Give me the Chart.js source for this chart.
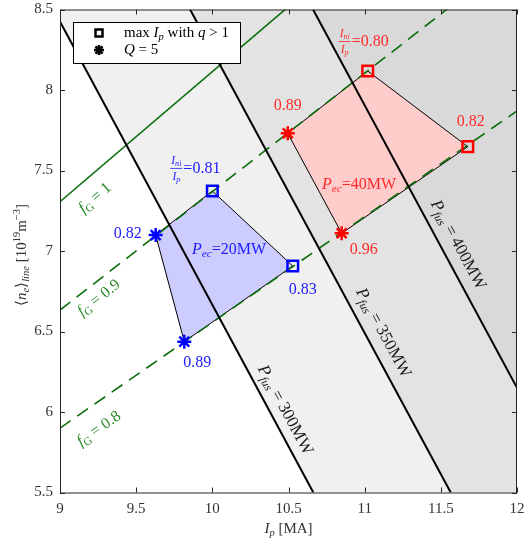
<!DOCTYPE html>
<html>
<head>
<meta charset="utf-8">
<script src="https://cdn.jsdelivr.net/npm/chart.js@4/dist/chart.umd.min.js"></script>
<style>
  html, body { margin: 0; padding: 0; background: #fff; }
</style>
</head>
<body>
<canvas id="chart" width="524" height="542"></canvas>
<script>
// ---- axis ticks ----
const xTicks = [9, 9.5, 10, 10.5, 11, 11.5, 12];
const yTicks = [5.5, 6, 6.5, 7, 7.5, 8, 8.5];

// ---- fusion power contours (Ip [MA], <ne> [1e19 m^-3]) ----
const pfusLevels = ['300MW', '350MW', '400MW'];
const pfusX = [[8.957, 10.663], [9.854, 11.565], [10.661, 12.0]];
const pfusY = [[8.5, 5.5], [8.5, 5.5], [8.5, 6.15]];

// ---- Greenwald fraction lines ----
const fgLevels = ['1', '0.9', '0.8'];
const fgX = [9, 12];
const fgY = [[7.306, 9.73], [6.633, 8.84], [5.90, 7.87]];

// ---- operating windows ----
// vertices: max Ip (q>1) squares first, then Q=5 asterisks
const bluePec = 20;
const blueX = [10.0, 10.528, 9.816, 9.628];
const blueY = [7.373, 6.907, 6.437, 7.099];
const blueNi = [0.81, 0.83, 0.89, 0.82];

const redPec = 40;
const redX = [11.02, 11.677, 10.849, 10.495];
const redY = [8.118, 7.648, 7.110, 7.731];
const redNi = [0.80, 0.82, 0.96, 0.89];

const FONT = 'Liberation Serif';
const BLUE = '#0000ff', RED = '#ff0000', GREEN = '#0b6e0b';

const pts = (xs, ys) => xs.map((x, i) => ({ x: x, y: ys[i] }));
const closed = (xs, ys) => { const p = pts(xs, ys); p.push(p[0]); return p; };

// grey bands to the right of each Pfus contour
const bandColors = ['#f0f0f0', '#e3e3e3', '#d9d9d9'];
const bands = pfusX.map((xs, i) => {
  const p = pts(xs, pfusY[i]);
  p.push({ x: 12, y: 5.5 }, { x: 12, y: 8.5 }, p[0]);
  return {
    data: p, showLine: true, fill: 'shape', backgroundColor: bandColors[i],
    borderWidth: 0, pointRadius: 0, order: 20 - i
  };
});

function polyDs(xs, ys, fillCol) {
  return {
    data: closed(xs, ys), showLine: true, fill: 'shape', backgroundColor: fillCol,
    borderColor: '#000', borderWidth: 1, pointRadius: 0, order: 6
  };
}
function markerDs(xs, ys, style, col, r) {
  return {
    data: pts(xs, ys), showLine: false, pointStyle: style, pointRadius: r,
    pointBorderColor: col, pointBackgroundColor: 'rgba(0,0,0,0)',
    pointBorderWidth: 2.5, order: 1
  };
}

const datasets = [
  ...bands,
  polyDs(blueX, blueY, '#ccccff'),
  polyDs(redX, redY, '#ffcccc'),
  ...fgY.map((ys, i) => ({
    data: pts(fgX, ys), showLine: true, borderColor: GREEN, borderWidth: 1.6,
    borderDash: i === 0 ? [] : [13, 8], pointRadius: 0, order: 4
  })),
  ...pfusX.map((xs, i) => ({
    data: pts(xs, pfusY[i]), showLine: true, borderColor: '#000', borderWidth: 2,
    pointRadius: 0, order: 3
  })),
  markerDs(blueX.slice(0, 2), blueY.slice(0, 2), 'rect', BLUE, 7.5),
  markerDs(blueX.slice(2), blueY.slice(2), 'star', BLUE, 7),
  markerDs(redX.slice(0, 2), redY.slice(0, 2), 'rect', RED, 7.5),
  markerDs(redX.slice(2), redY.slice(2), 'star', RED, 7)
];

// ---- rich text helpers (italic / subscript / superscript) ----
function setFont(ctx, s, size) {
  const fs = (s.sub || s.sup) ? size * 0.7 : size;
  ctx.font = (s.it ? 'italic ' : '') + fs + 'px "' + FONT + '"';
}
function richWidth(ctx, segs, size) {
  let w = 0;
  segs.forEach(s => { setFont(ctx, s, size); w += ctx.measureText(s.t).width; });
  return w;
}
function drawRich(ctx, segs, x, y, size, color, align) {
  const w = richWidth(ctx, segs, size);
  let cx = align === 'left' ? x : x - w / 2;
  ctx.fillStyle = color;
  ctx.textAlign = 'left';
  ctx.textBaseline = 'middle';
  segs.forEach(s => {
    setFont(ctx, s, size);
    const dy = s.sub ? size * 0.28 : s.sup ? -size * 0.35 : 0;
    ctx.fillText(s.t, cx, y + dy);
    cx += ctx.measureText(s.t).width;
  });
  return w;
}
function drawRotated(ctx, segs, x, y, size, color, angle) {
  ctx.save();
  ctx.translate(x, y);
  ctx.rotate(angle);
  drawRich(ctx, segs, 0, 0, size, color);
  ctx.restore();
}
function drawFrac(ctx, cx, cy, size, color, valTxt) {
  const fs = size * 0.72;
  const num = [{ t: 'I', it: 1 }, { t: 'ni', it: 1, sub: 1 }];
  const den = [{ t: 'I', it: 1 }, { t: 'p', it: 1, sub: 1 }];
  const fw = Math.max(richWidth(ctx, num, fs), richWidth(ctx, den, fs)) + 2;
  const rest = [{ t: '=' + valTxt }];
  const rw = richWidth(ctx, rest, size);
  const left = cx - (fw + 1 + rw) / 2;
  drawRich(ctx, num, left + fw / 2, cy - fs * 0.6, fs, color);
  drawRich(ctx, den, left + fw / 2, cy + fs * 0.75, fs, color);
  ctx.strokeStyle = color;
  ctx.lineWidth = 0.8;
  ctx.beginPath();
  ctx.moveTo(left, cy + 0.5);
  ctx.lineTo(left + fw, cy + 0.5);
  ctx.stroke();
  drawRich(ctx, rest, left + fw + 1, cy + 1, size, color, 'left');
}

// label offsets in pixels from each vertex
const blueOff = [[-17, -23], [10, 24], [13, 21], [-28, -1]];
const redOff = [[-4, -30], [3, -25], [22, 17], [0, -28]];
// label anchor points in data coordinates
const pfusLabelAt = [[10.477, 6.012], [11.121, 6.491], [11.613, 7.037]];
const fgLabelAt = [[9.23, 7.329], [9.256, 6.708], [9.256, 5.895]];
const pecLabelAt = [[10.11, 7.006], [10.963, 7.41]];

const overlay = {
  id: 'overlay',
  afterDatasetsDraw(chart) {
    const { ctx, chartArea: a, scales: { x, y } } = chart;
    const px = v => x.getPixelForValue(v), py = v => y.getPixelForValue(v);
    ctx.save();

    // frame with inward ticks
    ctx.strokeStyle = '#262626';
    ctx.lineWidth = 1;
    ctx.strokeRect(a.left + 0.5, a.top + 0.5, a.right - a.left - 1, a.bottom - a.top);
    ctx.beginPath();
    xTicks.forEach(v => {
      const p = Math.round(px(v)) + 0.5;
      ctx.moveTo(p, a.bottom); ctx.lineTo(p, a.bottom - 5);
      ctx.moveTo(p, a.top); ctx.lineTo(p, a.top + 5);
    });
    yTicks.forEach(v => {
      const p = Math.round(py(v)) + 0.5;
      ctx.moveTo(a.left, p); ctx.lineTo(a.left + 5, p);
      ctx.moveTo(a.right, p); ctx.lineTo(a.right - 5, p);
    });
    ctx.stroke();

    // Pfus labels
    pfusLevels.forEach((lvl, i) => {
      const ang = Math.atan2(py(pfusY[i][1]) - py(pfusY[i][0]), px(pfusX[i][1]) - px(pfusX[i][0]));
      drawRotated(ctx, [{ t: 'P', it: 1 }, { t: 'fus', it: 1, sub: 1 }, { t: ' = ' + lvl }],
        px(pfusLabelAt[i][0]), py(pfusLabelAt[i][1]), 17, '#1a1a1a', ang);
    });
    // fG labels
    fgLevels.forEach((lvl, i) => {
      const ang = Math.atan2(py(fgY[i][1]) - py(fgY[i][0]), px(fgX[1]) - px(fgX[0]));
      drawRotated(ctx, [{ t: 'f', it: 1 }, { t: 'G', sub: 1 }, { t: ' = ' + lvl }],
        px(fgLabelAt[i][0]), py(fgLabelAt[i][1]), 16, '#2a8a2a', ang);
    });

    // window labels
    [[blueX, blueY, blueNi, blueOff, '#2020ff', bluePec, 0],
     [redX, redY, redNi, redOff, '#ff2a2a', redPec, 1]].forEach(([xs, ys, ni, off, col, pec, k]) => {
      xs.forEach((xv, i) => {
        const lx = px(xv) + off[i][0], ly = py(ys[i]) + off[i][1];
        if (i === 0) drawFrac(ctx, lx, ly, 16, col, ni[i].toFixed(2));
        else drawRich(ctx, [{ t: ni[i].toFixed(2) }], lx, ly, 16, col);
      });
      drawRich(ctx, [{ t: 'P', it: 1 }, { t: 'ec', it: 1, sub: 1 }, { t: '=' + pec + 'MW' }],
        px(pecLabelAt[k][0]), py(pecLabelAt[k][1]), 16, col);
    });

    // legend box
    const lx0 = 73, ly0 = 22, lw = 167, lh = 41;
    ctx.fillStyle = '#fff';
    ctx.fillRect(lx0, ly0, lw, lh);
    ctx.strokeStyle = '#000';
    ctx.lineWidth = 1;
    ctx.strokeRect(lx0 + 0.5, ly0 + 0.5, lw, lh);
    const mx = lx0 + 26;
    ctx.lineWidth = 2.5;
    ctx.strokeRect(mx - 3.5, ly0 + 11 - 3.5, 7, 7);
    ctx.beginPath();
    for (let k = 0; k < 4; k++) {
      const t = k * Math.PI / 4, r = 5;
      ctx.moveTo(mx - r * Math.cos(t), ly0 + 28 - r * Math.sin(t));
      ctx.lineTo(mx + r * Math.cos(t), ly0 + 28 + r * Math.sin(t));
    }
    ctx.stroke();
    drawRich(ctx, [{ t: 'max ' }, { t: 'I', it: 1 }, { t: 'p', it: 1, sub: 1 }, { t: ' with ' },
      { t: 'q', it: 1 }, { t: ' > 1' }], lx0 + 51, ly0 + 11, 15, '#000', 'left');
    drawRich(ctx, [{ t: 'Q', it: 1 }, { t: ' = 5' }], lx0 + 51, ly0 + 28, 15, '#000', 'left');

    // axis titles
    drawRich(ctx, [{ t: 'I', it: 1 }, { t: 'p', it: 1, sub: 1 }, { t: ' [MA]' }],
      (a.left + a.right) / 2, 529, 15, '#333');
    ctx.translate(22, (a.top + a.bottom) / 2 + 4);
    ctx.rotate(-Math.PI / 2);
    drawRich(ctx, [{ t: '\u27e8' }, { t: 'n', it: 1 }, { t: 'e', it: 1, sub: 1 }, { t: '\u27e9' },
      { t: 'line', it: 1, sub: 1 }, { t: ' [10' }, { t: '19', sup: 1 }, { t: 'm' }, { t: '\u22123', sup: 1 },
      { t: ']' }], 0, 0, 15, '#333');
    ctx.restore();
  }
};

new Chart(document.getElementById('chart'), {
  type: 'scatter',
  data: { datasets: datasets },
  options: {
    responsive: false,
    animation: false,
    devicePixelRatio: 1,
    layout: { autoPadding: false, padding: { top: 9.5, right: 7, left: 0, bottom: 0 } },
    plugins: { legend: { display: false }, tooltip: { enabled: false } },
    elements: { line: { tension: 0 } },
    scales: {
      x: {
        type: 'linear', min: 9, max: 12,
        afterBuildTicks: s => { s.ticks = xTicks.map(v => ({ value: v })); },
        afterFit: s => { s.height = 49.5; s.paddingLeft = 0; s.paddingRight = 0; },
        grid: { display: false, drawTicks: false },
        border: { display: false },
        ticks: { padding: 8, color: '#333', font: { family: FONT, size: 15 }, callback: v => String(v) }
      },
      y: {
        type: 'linear', min: 5.5, max: 8.5,
        afterBuildTicks: s => { s.ticks = yTicks.map(v => ({ value: v })); },
        afterFit: s => { s.width = 60; s.paddingTop = 0; s.paddingBottom = 0; },
        grid: { display: false, drawTicks: false },
        border: { display: false },
        ticks: { padding: 7, color: '#333', font: { family: FONT, size: 15 }, callback: v => String(v) }
      }
    }
  },
  plugins: [overlay]
});
</script>
</body>
</html>
